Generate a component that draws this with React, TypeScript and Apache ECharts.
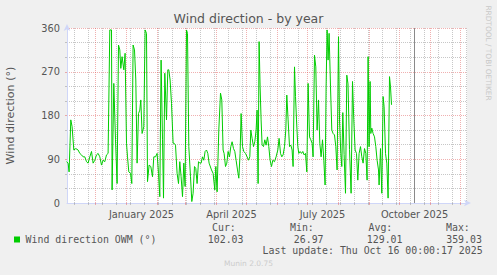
import React, { useEffect, useRef } from "react";
import * as echarts from "echarts";

const TITLE = "Wind direction - by year";
const Y_NAME = "Wind direction (°)";
const SERIES_NAME = "Wind direction OWM (°)";
const WATERMARK = "RRDTOOL / TOBI OETIKER";
const VERSION = "Munin 2.0.75";
const LAST_UPDATE = "Last update: Thu Oct 16 00:00:17 2025";

// x values are days counted from 2025-01-01 00:00
const dayOffsets = [
  -60.0, -58.4, -57.4, -55.7, -54.4, -52.7, -50.7, -48.4, -46.7, -45.0, -43.4, -41.7, -40.0, -38.4, -36.7, -35.0,
  -33.4, -31.7, -30.0, -28.4, -26.7, -25.0, -23.4, -21.7, -20.0, -18.4, -16.7, -15.0, -14.4, -12.7, -11.0, -9.4,
  -8.0, -6.7, -5.7, -4.4, -2.7, -1.4, 0.0, 1.0, 2.3, 4.0, 5.3, 6.6, 8.0, 9.3, 10.6, 12.0, 13.3, 14.3, 15.6, 17.3,
  18.6, 20.0, 21.0, 22.6, 24.3, 26.0, 27.3, 29.0, 30.6, 32.0, 33.3, 34.6, 36.0, 37.0, 38.3, 40.0, 41.3, 42.3, 43.6,
  45.0, 46.6, 47.6, 49.0, 50.6, 52.0, 53.3, 54.6, 56.0, 57.3, 58.6, 60.0, 61.0, 62.3, 64.0, 65.3, 66.6, 68.0, 69.3,
  70.6, 72.0, 73.3, 74.6, 76.0, 77.3, 78.6, 80.0, 81.3, 82.6, 85.0, 86.6, 88.3, 89.3, 90.6, 92.3, 94.0, 95.3, 96.6,
  97.6, 99.0, 100.3, 101.6, 103.0, 104.3, 105.6, 107.0, 108.3, 109.6, 111.0, 112.3, 113.6, 114.6, 116.0, 117.3,
  119.0, 120.6, 122.0, 123.3, 124.3, 125.6, 127.0, 128.3, 129.6, 130.6, 131.6, 132.6, 133.6, 134.6, 135.6, 137.0,
  138.3, 139.6, 141.0, 142.3, 143.6, 145.0, 146.3, 148.0, 149.6, 151.3, 152.6, 154.0, 155.3, 156.6, 158.0, 159.3,
  160.3, 161.6, 163.0, 164.3, 165.6, 166.6, 168.0, 169.0, 170.0, 171.3, 172.3, 173.6, 175.0, 176.3, 177.6, 179.0,
  180.3, 181.6, 183.0, 184.3, 185.6, 186.6, 188.0, 189.3, 190.6, 192.0, 193.3, 194.6, 196.0, 197.3, 198.6, 199.6,
  200.6, 201.6, 202.6, 204.0, 205.3, 206.6, 208.0, 209.3, 210.6, 212.0, 213.0, 214.3, 215.3, 216.3, 217.6, 219.0,
  220.3, 221.5, 223.0, 224.6, 226.0, 227.3, 228.6, 230.0, 231.3, 232.6, 234.0, 235.3, 236.6, 238.0, 239.3, 240.6,
  241.6, 242.6, 243.6, 244.3, 245.3, 246.6, 248.0, 249.3, 250.6, 252.0, 252.6, 254.0, 255.3, 256.6, 257.6, 259.0,
  260.3, 261.6, 263.0, 264.0, 265.0,
];

const windDirection = [
  85, 82, 64, 171, 157, 109, 112, 109, 102, 99, 95, 95, 85, 82, 95, 106,
  82, 88, 99, 102, 95, 78, 88, 85, 99, 102, 356, 356, 27, 246, 130, 40,
  325, 315, 277, 301, 274, 308, 123, 95, 64, 61, 40, 325, 315, 253, 82, 184, 191, 212, 143, 157,
  356, 349, 44, 78, 75, 54, 95, 95, 102, 61, 13, 294, 130, 10, 267, 171, 274, 274, 253,
  205, 123, 123, 119, 61, 40, 85, 54, 13, 82, 34, 356, 349, 116, 54, 3, 20, 75, 71,
  40, 85, 82, 82, 95, 88, 106, 109, 102, 82, 68, 61, 27, 75, 23, 150, 226, 212, 109,
  102, 75, 82, 106, 95, 116, 126, 112, 106, 88, 68, 51, 102, 184, 116, 106,
  102, 95, 88, 95, 150, 133, 116, 126, 150, 191, 40, 332, 239, 171, 119, 116,
  130, 119, 136, 116, 88, 75, 88, 85, 95, 109, 133, 102, 95, 99, 116, 150,
  222, 171, 116, 119, 109, 75, 280, 219, 171, 116, 102, 106, 102, 106, 99, 102,
  64, 246, 136, 130, 123, 95, 304, 280, 150, 212, 123, 95, 130, 88, 37, 239,
  356, 294, 349, 239, 150, 143, 140, 116, 68, 342, 171, 102, 75, 186, 100, 20,
  263, 245, 110, 20, 250, 171, 109, 102, 47, 102, 116, 95, 82, 112, 102, 47,
  301, 116, 250, 143, 154, 143, 136, 116, 88, 68, 37, 112, 20, 219, 198, 102,
  82, 10, 260, 239, 202,
];

const yLabelValues = [0, 90, 180, 270, 360];
const yMinorValues = [30, 60, 120, 150, 210, 240, 300, 330];
const monthStartDays = [-31, 0, 31, 59, 90, 120, 151, 181, 212, 243, 273, 304, 334];
const xLabelDays = [15, 105, 196, 288];
const xLabelTexts = ["January 2025", "April 2025", "July 2025", "October 2025"];
const LAST_UPDATE_DAY = 288;

const statHeaders = ["Cur:", "Min:", "Avg:", "Max:"];
const statValues = ["102.03", "26.97", "129.01", "359.03"];

const X_MIN = -59.5;
const X_MAX = 340.5;

// two-week minor grid starting on Sunday 2024-11-10
const minorDays: number[] = [];
for (let d = -52; d <= X_MAX; d += 14) minorDays.push(d);

const GRID = "rgba(143,143,143,0.5)";
const MGRID = "rgba(222,79,79,0.45)";
const AXIS = "#CFD6F8";
const FONT = "#555555";
const SANS = '"DejaVu Sans", sans-serif';
const MONO = '"DejaVu Sans Mono", monospace';
const GREEN = "#00CC00";

export default function App() {
  const ref = useRef<HTMLDivElement>(null);

  useEffect(() => {
    if (!ref.current) return;
    const chart = echarts.init(ref.current, null, { renderer: "svg" });

    const data = dayOffsets.map((d, i) => [d, windDirection[i]]);
    const statX = [212, 290, 368.5, 446];
    const valX = [207.8, 293.8, 366.8, 446.2];

    const graphics: any[] = [
      {
        type: "text",
        style: { text: TITLE, x: 248.5, y: 18.9, fill: FONT, fontSize: 12.5, fontFamily: SANS, textAlign: "center", textVerticalAlign: "middle" },
      },
      {
        type: "text",
        x: 10.6,
        y: 115.5,
        rotation: Math.PI / 2,
        style: { text: Y_NAME, x: 0, y: 0, fill: FONT, fontSize: 11.1, fontFamily: SANS, textAlign: "center", textVerticalAlign: "middle" },
      },
      {
        type: "text",
        x: 488.4,
        y: 53,
        rotation: -Math.PI / 2,
        style: { text: WATERMARK, x: 0, y: 0, fill: "#C8C8C8", fontSize: 7.4, fontFamily: SANS, textAlign: "center", textVerticalAlign: "middle" },
      },
      {
        type: "rect",
        shape: { x: 14, y: 236.5, width: 6, height: 6 },
        style: { fill: GREEN },
      },
      {
        type: "text",
        style: { text: SERIES_NAME, x: 25.6, y: 239.6, fill: FONT, fontSize: 9.9, fontFamily: MONO, textAlign: "left", textVerticalAlign: "middle" },
      },
      {
        type: "text",
        style: { text: LAST_UPDATE, x: 482.6, y: 250.8, fill: FONT, fontSize: 9.9, fontFamily: MONO, textAlign: "right", textVerticalAlign: "middle" },
      },
      {
        type: "text",
        style: { text: VERSION, x: 248.5, y: 263.8, fill: "#CCCCCC", fontSize: 7.5, fontFamily: SANS, textAlign: "center", textVerticalAlign: "middle" },
      },
    ];
    statHeaders.forEach((h, i) => {
      graphics.push({
        type: "text",
        style: { text: h, x: statX[i], y: 227.3, fill: FONT, fontSize: 9.9, fontFamily: MONO, textAlign: "left", textVerticalAlign: "middle" },
      });
    });
    statValues.forEach((v, i) => {
      graphics.push({
        type: "text",
        style: { text: v, x: valX[i], y: 239.8, fill: FONT, fontSize: 9.9, fontFamily: MONO, textAlign: "left", textVerticalAlign: "middle" },
      });
    });

    const option: any = {
      animation: false,
      backgroundColor: "#F0F0F0",
      grid: { left: 67, right: 30, top: 28, bottom: 72, show: true, backgroundColor: "#FFFFFF", borderWidth: 0 },
      xAxis: [
        {
          type: "value",
          min: X_MIN,
          max: X_MAX,
          position: "bottom",
          axisLine: { show: true, onZero: false, lineStyle: { color: AXIS, width: 1 }, symbol: ["none", "arrow"], symbolSize: [5, 7], symbolOffset: [0, 4] },
          axisTick: { show: true, customValues: minorDays, length: 2, lineStyle: { color: GRID } },
          axisLabel: { show: false },
          splitLine: { show: true, lineStyle: { color: GRID, type: [1, 1], width: 1 } },
        },
        {
          type: "value",
          min: X_MIN,
          max: X_MAX,
          position: "bottom",
          axisLine: { show: false, onZero: false },
          axisTick: { show: true, customValues: monthStartDays, length: 2, lineStyle: { color: MGRID } },
          axisLabel: { show: false },
          splitLine: { show: true, lineStyle: { color: MGRID, type: [1, 1], width: 1 } },
        },
        {
          type: "value",
          min: X_MIN,
          max: X_MAX,
          position: "bottom",
          axisLine: { show: false, onZero: false },
          axisTick: { show: false },
          splitLine: { show: false },
          axisLabel: {
            show: true,
            customValues: xLabelDays,
            formatter: (v: number) => xLabelTexts[xLabelDays.indexOf(v)] ?? "",
            color: FONT,
            fontSize: 9.8,
            fontFamily: SANS,
            margin: 6,
          },
        },
      ],
      yAxis: [
        {
          type: "value",
          min: 0,
          max: 360,
          position: "left",
          axisLine: { show: true, onZero: false, lineStyle: { color: AXIS, width: 1 }, symbol: ["none", "arrow"], symbolSize: [5, 7], symbolOffset: [0, 4] },
          axisTick: { show: true, customValues: yMinorValues, length: 2, lineStyle: { color: GRID } },
          axisLabel: { show: false },
          splitLine: { show: true, lineStyle: { color: GRID, type: [1, 1], width: 1 } },
        },
        {
          type: "value",
          min: 0,
          max: 360,
          position: "left",
          axisLine: { show: false, onZero: false },
          axisTick: { show: true, customValues: yLabelValues.filter((v) => v > 0), length: 2, lineStyle: { color: MGRID } },
          axisLabel: { show: true, customValues: yLabelValues, color: FONT, fontSize: 9.8, fontFamily: SANS, margin: 7 },
          splitLine: { show: true, lineStyle: { color: MGRID, type: [1, 1], width: 1 } },
        },
      ],
      series: [
        {
          name: SERIES_NAME,
          type: "line",
          xAxisIndex: 0,
          yAxisIndex: 0,
          data,
          showSymbol: false,
          symbol: "none",
          lineStyle: { color: GREEN, width: 1 },
          z: 5,
          markLine: {
            silent: true,
            symbol: "none",
            label: { show: false },
            lineStyle: { color: "#8A8A8A", type: "solid", width: 1 },
            data: [{ xAxis: LAST_UPDATE_DAY }],
          },
        },
      ],
      graphic: graphics,
    };

    chart.setOption(option);
    return () => chart.dispose();
  }, []);

  return <div ref={ref} style={{ position: "fixed", left: 0, top: 0, width: 497, height: 275 }} />;
}
